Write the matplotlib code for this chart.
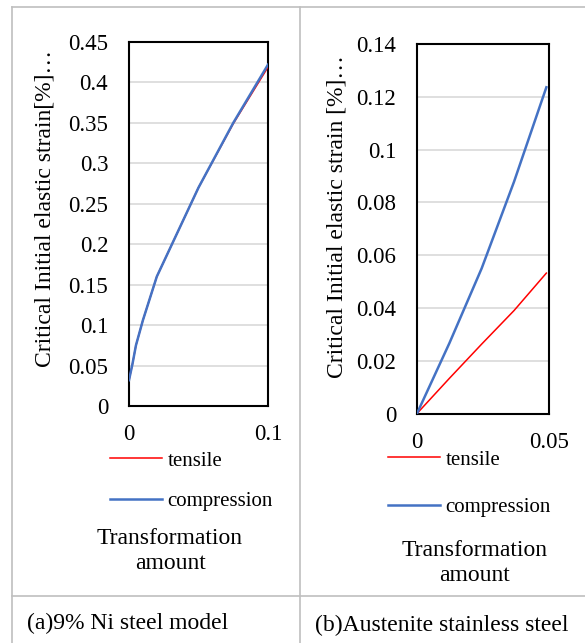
import matplotlib
matplotlib.use('Agg')
import matplotlib.pyplot as plt
from matplotlib.lines import Line2D

plt.rcParams['font.family'] = ['Liberation Serif', 'DejaVu Serif']

# (a) 9% Ni steel model
ni_x = [0, 0.001, 0.0025, 0.005, 0.01, 0.015, 0.02, 0.05, 0.075, 0.1]
ni_tensile = [0.032, 0.04, 0.052, 0.075, 0.106, 0.133, 0.16, 0.27, 0.349, 0.419]
ni_compression = [0.032, 0.04, 0.052, 0.075, 0.106, 0.133, 0.16, 0.27, 0.35, 0.422]
ni_yticks = [0, 0.05, 0.1, 0.15, 0.2, 0.25, 0.3, 0.35, 0.4, 0.45]
ni_xticks = [0, 0.1]

# (b) Austenite stainless steel
as_x = [0, 0.01225, 0.0245, 0.03675, 0.049]
as_tensile = [0, 0.0133, 0.0263, 0.039, 0.0532]
as_compression = [0, 0.0266, 0.055, 0.0878, 0.1236]
as_yticks = [0, 0.02, 0.04, 0.06, 0.08, 0.1, 0.12, 0.14]
as_xticks = [0, 0.05]

W, H = 585, 643
RED = '#FF0000'
BLUE = '#4472C4'
GRID = '#D9D9D9'
BORDER = '#BFBFBF'


def fx(x):
    return x / W


def fy(y):
    return 1 - y / H


def tick_fmt(v):
    return '0' if v == 0 else f'{v:g}'


def make_panel(fig, box, x, tens, comp, xticks, yticks):
    left, top, right, bottom = box
    ax = fig.add_axes([fx(left), fy(bottom), fx(right) - fx(left), fy(top) - fy(bottom)])
    ax.plot(x, tens, color=RED, lw=1.1, label='tensile', zorder=3)
    ax.plot(x, comp, color=BLUE, lw=1.8, label='compression', zorder=4)
    ax.set_xlim(xticks[0], xticks[-1])
    ax.set_ylim(yticks[0], yticks[-1])
    ax.set_xticks(xticks)
    ax.set_xticklabels([tick_fmt(v) for v in xticks])
    ax.set_yticks(yticks)
    ax.set_yticklabels([tick_fmt(v) for v in yticks])
    ax.tick_params(axis='both', length=0, labelsize=16.5)
    ax.tick_params(axis='y', pad=15)
    ax.tick_params(axis='x', pad=13)
    ax.grid(True, axis='y', color=GRID, lw=1.2)
    ax.set_axisbelow(True)
    for s in ax.spines.values():
        s.set_color('black')
        s.set_linewidth(1.5)
    return ax


fig = plt.figure(figsize=(W / 100, H / 100), dpi=100)

# table borders
for (x0, y0, x1, y1) in [(12, 7, W, 7), (12, 7, 12, H), (300, 7, 300, H), (12, 596, W, 596)]:
    fig.add_artist(Line2D([fx(x0), fx(x1)], [fy(y0), fy(y1)], color=BORDER, lw=1.2))

ax1 = make_panel(fig, (129, 42, 268, 406), ni_x, ni_tensile, ni_compression,
                 ni_xticks, ni_yticks)
ax2 = make_panel(fig, (417, 44, 549, 413.5), as_x, as_tensile, as_compression,
                 as_xticks, as_yticks)

fig.text(fx(45), fy(209), 'Critical Initial elastic strain[%]…', rotation=90,
         ha='center', va='center', fontsize=17)
fig.text(fx(337), fy(217), 'Critical Initial elastic strain [%]…', rotation=90,
         ha='center', va='center', fontsize=17)

ax1.legend(loc='upper left', bbox_to_anchor=(fx(110), fy(451)), bbox_transform=fig.transFigure,
           frameon=False, fontsize=15, handlelength=2.5, handletextpad=0.25,
           labelspacing=1.0, borderpad=0, borderaxespad=0)
ax2.legend(loc='upper left', bbox_to_anchor=(fx(388), fy(450)), bbox_transform=fig.transFigure,
           frameon=False, fontsize=15, handlelength=2.5, handletextpad=0.25,
           labelspacing=1.35, borderpad=0, borderaxespad=0)

fig.text(fx(170), fy(551), 'Transformation\namount', ha='center', va='center',
         fontsize=17, linespacing=1.25)
fig.text(fx(475), fy(563), 'Transformation\namount', ha='center', va='center',
         fontsize=17, linespacing=1.25)

fig.text(fx(27), fy(623), '(a)9% Ni steel model', ha='left', va='center', fontsize=17)
fig.text(fx(315), fy(625), '(b)Austenite stainless steel', ha='left', va='center', fontsize=17)

fig.savefig('out.png', dpi=100)
